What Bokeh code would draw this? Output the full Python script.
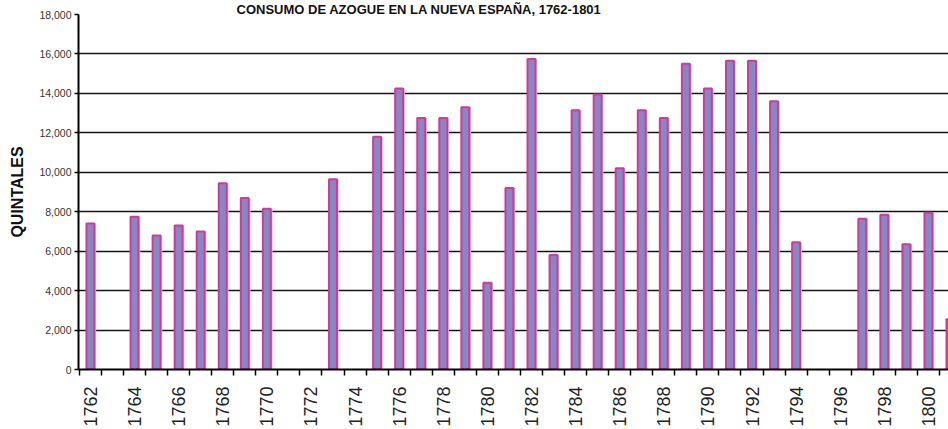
from math import pi
from bokeh.plotting import figure
from bokeh.models import (ColumnDataSource, Range1d, FixedTicker, NumeralTickFormatter,
                          Title)
from bokeh.transform import dodge
from bokeh.embed import file_html
from bokeh.resources import INLINE

# ---------------- data ----------------
title_text = "CONSUMO DE AZOGUE EN LA NUEVA ESPAÑA, 1762-1801"
y_axis_title = "QUINTALES"

years = [1762, 1763, 1764, 1765, 1766, 1767, 1768, 1769, 1770, 1771,
         1772, 1773, 1774, 1775, 1776, 1777, 1778, 1779, 1780, 1781,
         1782, 1783, 1784, 1785, 1786, 1787, 1788, 1789, 1790, 1791,
         1792, 1793, 1794, 1795, 1796, 1797, 1798, 1799, 1800, 1801]

quintales = [7400, 0, 7750, 6800, 7300, 7000, 9450, 8700, 8150, 0,
             0, 9650, 0, 11800, 14250, 12750, 12750, 13300, 4400, 9200,
             15750, 5800, 13150, 13950, 10200, 13150, 12750, 15500, 14250, 15650,
             15650, 13600, 6450, 0, 0, 7650, 7850, 6350, 7950, 2550]

x_tick_labels = ["1762", "1764", "1766", "1768", "1770", "1772", "1774",
                 "1776", "1778", "1780", "1782", "1784", "1786", "1788",
                 "1790", "1792", "1794", "1796", "1798", "1800"]

y_ticks = [0, 2000, 4000, 6000, 8000, 10000, 12000, 14000, 16000, 18000]

# ---------------- sources ----------------
bars = ColumnDataSource(dict(
    year=[y for y, v in zip(years, quintales) if v > 0],
    q=[v for v in quintales if v > 0],
))

FONT = "Liberation Sans"

p = figure(width=948, height=429, output_backend="svg", toolbar_location=None,
           title=None,
           x_range=Range1d(1761.46, 1800.91), y_range=Range1d(0, 18000),
           min_border_left=78, min_border_right=0, min_border_top=14,
           min_border_bottom=54)
p.outline_line_color = None
p.background_fill_color = "white"
p.border_fill_color = "white"

# title just above the plot area
p.add_layout(Title(text=title_text, align="left", offset=158, standoff=-4,
                   text_font=FONT, text_font_style="bold", text_font_size="13px",
                   text_color="#111111"), "above")

# grid
p.xgrid.visible = False
p.ygrid.ticker = FixedTicker(ticks=y_ticks)
p.ygrid.grid_line_color = "#141414"
p.ygrid.grid_line_width = 1.5

# shadow + bars
p.vbar(x=dodge("year", 0.08, range=p.x_range), top="q", width=0.36, bottom=0,
       source=bars, fill_color="#EDB8E0", line_color=None)
p.vbar(x="year", top="q", width=0.36, bottom=0, source=bars,
       fill_color="#8787C2", line_color="#CC3C9C", line_width=2)

# y axis
ya = p.yaxis[0]
ya.ticker = FixedTicker(ticks=y_ticks)
ya.formatter = NumeralTickFormatter(format="0,0")
ya.major_label_text_font = FONT
ya.major_label_text_font_size = "10.5px"
ya.major_label_text_color = "#333333"
ya.major_label_standoff = 3
ya.major_tick_out = 4
ya.major_tick_in = 0
ya.major_tick_line_color = "black"
ya.major_tick_line_width = 1.5
ya.minor_tick_line_color = None
ya.axis_line_color = "black"
ya.axis_line_width = 2
ya.axis_label = y_axis_title
ya.axis_label_text_font = FONT
ya.axis_label_text_font_style = "bold"
ya.axis_label_text_font_size = "16px"
ya.axis_label_text_color = "#111111"
ya.axis_label_standoff = 10

# x axis: ticks at category boundaries, labels on even years
xa = p.xaxis[0]
xa.ticker = FixedTicker(ticks=[int(t) for t in x_tick_labels],
                        minor_ticks=[y - 0.5 for y in years])
xa.major_label_overrides = {int(t): t for t in x_tick_labels}
xa.major_label_orientation = pi / 2
xa.major_label_text_font = FONT
xa.major_label_text_font_size = "18px"
xa.major_label_text_color = "#222222"
xa.major_label_standoff = 11
xa.major_tick_out = 0
xa.major_tick_in = 0
xa.major_tick_line_color = None
xa.minor_tick_out = 6
xa.minor_tick_in = 0
xa.minor_tick_line_color = "black"
xa.minor_tick_line_width = 1.5
xa.axis_line_color = "black"
xa.axis_line_width = 2

open("out.html", "w").write(file_html(p, INLINE))
